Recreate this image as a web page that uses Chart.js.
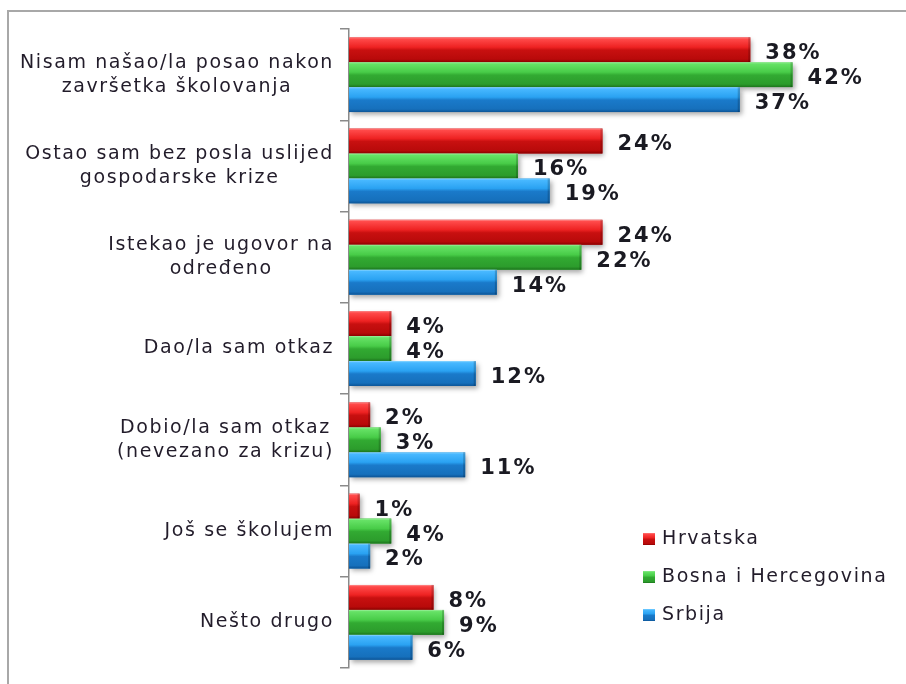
<!DOCTYPE html>
<html>
<head>
<meta charset="utf-8">
<script src="https://cdn.jsdelivr.net/npm/chart.js@4/dist/chart.umd.min.js"></script>
<style>
html,body{margin:0;padding:0;background:#fff;}
#wrap{width:906px;height:684px;position:relative;}
</style>
</head>
<body>
<div id="wrap"><canvas id="c" width="906" height="684"></canvas></div>
<script>
const categories = [
  ["Nisam našao/la posao nakon", "završetka školovanja"],
  ["Ostao sam bez posla uslijed", "gospodarske krize"],
  ["Istekao je ugovor na", "određeno"],
  ["Dao/la sam otkaz"],
  ["Dobio/la sam otkaz", "(nevezano za krizu)"],
  ["Još se školujem"],
  ["Nešto drugo"]
];
const seriesNames = ["Hrvatska", "Bosna i Hercegovina", "Srbija"];
const hrvatska = [38, 24, 24, 4, 2, 1, 8];
const bih = [42, 16, 22, 4, 3, 4, 9];
const srbija = [37, 19, 14, 12, 11, 2, 6];

const baseColors = ['#c8161a', '#38b838', '#1a7ccc'];
const gradStops = [
  [[0,'#ff9090'],[0.07,'#ff4a4a'],[0.4,'#ee2222'],[0.52,'#c81010'],[0.88,'#b80a0a'],[1,'#8a0000']],
  [[0,'#a0f0a0'],[0.07,'#66e266'],[0.4,'#48cc48'],[0.52,'#32aa32'],[0.88,'#2c9c2c'],[1,'#1c741c']],
  [[0,'#90d8ff'],[0.07,'#48b8ff'],[0.4,'#2aa2f2'],[0.52,'#1a7aca'],[0.88,'#1670bc'],[1,'#0c5496']]
];

function makeGrad(ctx, top, h, idx) {
  const g = ctx.createLinearGradient(0, top, 0, top + h);
  gradStops[idx].forEach(s => g.addColorStop(s[0], s[1]));
  return g;
}

const LABEL_FONT = '19px "DejaVu Sans"';
const LABEL_SPACING = '1.6px';

const decor = {
  id: 'decor',
  beforeDraw(chart) {
    const ctx = chart.ctx;
    ctx.save();
    ctx.fillStyle = '#fff';
    ctx.fillRect(0, 0, chart.width, chart.height);
    ctx.strokeStyle = '#a8a8a8';
    ctx.lineWidth = 2;
    ctx.beginPath();
    ctx.moveTo(8, 684);
    ctx.lineTo(8, 11);
    ctx.lineTo(906, 11);
    ctx.stroke();
    ctx.restore();
  },
  beforeDatasetsDraw(chart) {
    const ctx = chart.ctx;
    ctx.save();
    ctx.shadowColor = 'rgba(0,0,0,0.35)';
    ctx.shadowBlur = 5;
    ctx.shadowOffsetX = 2;
    ctx.shadowOffsetY = 3;
  },
  afterDatasetsDraw(chart) {
    const ctx = chart.ctx;
    ctx.restore();
    ctx.save();
    chart.data.datasets.forEach((ds, di) => {
      const meta = chart.getDatasetMeta(di);
      meta.data.forEach((el, i) => {
        const p = el.getProps(['x', 'y', 'base', 'height'], true);
        const top = p.y - p.height / 2;
        const left = Math.min(p.base, p.x);
        const w = Math.abs(p.x - p.base);
        ctx.fillStyle = makeGrad(ctx, top, p.height, di);
        ctx.fillRect(left, top, w, p.height);
        ctx.fillStyle = 'rgba(0,0,0,0.18)';
        ctx.fillRect(left + w - 2, top, 2, p.height);
        ctx.font = 'bold 21px "DejaVu Sans"';
        ctx.letterSpacing = '2px';
        ctx.fillStyle = '#1a1a22';
        ctx.textAlign = 'left';
        ctx.textBaseline = 'middle';
        ctx.fillText(ds.data[i] + '%', p.x + 15, p.y + 4);
      });
    });
    ctx.restore();

    const y = chart.scales.y;
    ctx.save();
    ctx.font = LABEL_FONT;
    ctx.letterSpacing = LABEL_SPACING;
    ctx.fillStyle = '#221c2a';
    ctx.textAlign = 'center';
    ctx.textBaseline = 'middle';
    categories.forEach((lines, i) => {
      const cy = y.getPixelForValue(i);
      const widest = Math.max(...lines.map(l => ctx.measureText(l).width));
      const cx = 334 - widest / 2;
      const lh = 24;
      const start = cy - (lines.length - 1) * lh / 2;
      lines.forEach((l, k) => ctx.fillText(l, cx, start + k * lh));
    });
    ctx.restore();

    ctx.save();
    ctx.font = LABEL_FONT;
    ctx.letterSpacing = LABEL_SPACING;
    ctx.textAlign = 'left';
    ctx.textBaseline = 'middle';
    chart.data.datasets.forEach((ds, di) => {
      const ly = 539 + di * 38;
      ctx.fillStyle = makeGrad(ctx, ly - 6, 12, di);
      ctx.fillRect(643, ly - 6, 12, 12);
      ctx.fillStyle = '#221c2a';
      ctx.fillText(ds.label, 662, ly);
    });
    ctx.restore();
  }
};

new Chart(document.getElementById('c'), {
  type: 'bar',
  data: {
    labels: categories,
    datasets: [
      { label: seriesNames[0], data: hrvatska, backgroundColor: baseColors[0] },
      { label: seriesNames[1], data: bih, backgroundColor: baseColors[1] },
      { label: seriesNames[2], data: srbija, backgroundColor: baseColors[2] }
    ]
  },
  options: {
    indexAxis: 'y',
    responsive: false,
    animation: false,
    layout: { padding: { top: 29, bottom: 16, right: 29, left: 0 } },
    datasets: { bar: { categoryPercentage: 0.82, barPercentage: 1.0, borderWidth: 0 } },
    scales: {
      x: { display: false, min: 0, max: 50 },
      y: {
        afterFit(scale) { scale.width = 349; },
        ticks: { display: false },
        grid: { drawOnChartArea: false, drawTicks: true, tickLength: 9, color: '#8a8a8a', lineWidth: 1.5, offset: true },
        border: { display: true, color: '#8a8a8a', width: 1.5 }
      }
    },
    plugins: { legend: { display: false }, tooltip: { enabled: false } }
  },
  plugins: [decor]
});
</script>
</body>
</html>
